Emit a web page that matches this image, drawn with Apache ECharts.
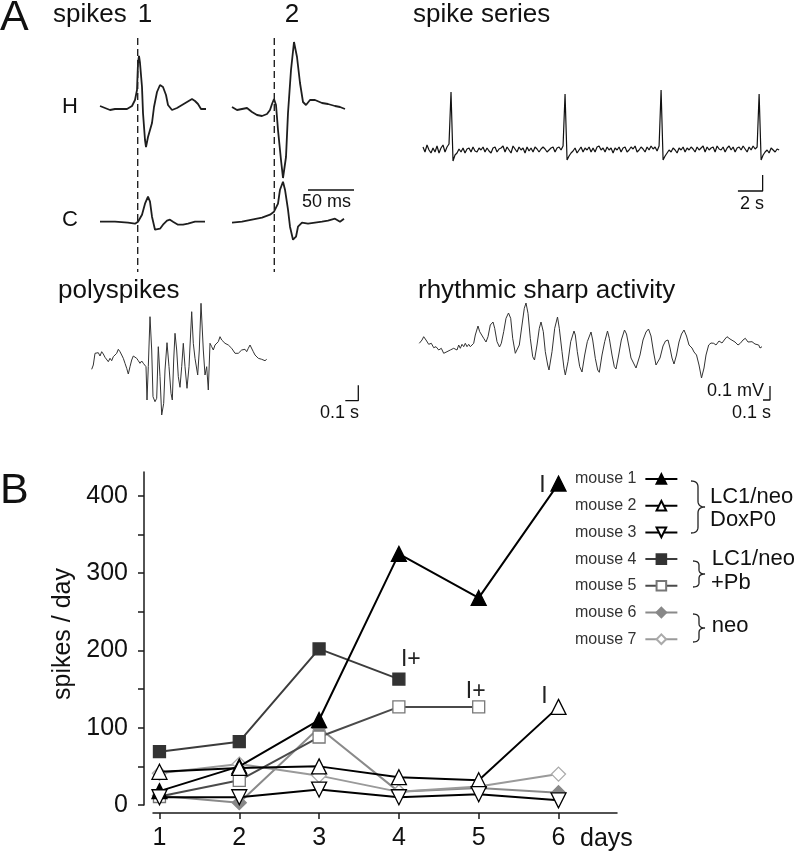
<!DOCTYPE html>
<html><head><meta charset="utf-8">
<script src="https://cdn.jsdelivr.net/npm/echarts@6/dist/echarts.min.js"></script>
<style>html,body{margin:0;padding:0;background:#fff}#c{width:794px;height:853px}</style>
</head><body><div id="c"></div>
<script>
// ================= Panel B data =================
const days = [1, 2, 3, 4, 5, 6];
const yTickValues = [0, 50, 100, 150, 200, 250, 300, 350, 400];
const yTickLabels = [0, 100, 200, 300, 400];
const mouseNames = ['mouse 1', 'mouse 2', 'mouse 3', 'mouse 4', 'mouse 5', 'mouse 6', 'mouse 7'];
const mouse1 = [18, 50, 110, 325, 268, 416];
const mouse2 = [43, 48, 50, 36, 32, 127];
const mouse3 = [10, 10, 20, 10, 14, 6];
const mouse4 = [69, 82, 202, 163];
const mouse5 = [11, 32, 88, 127, 127];
const mouse6 = [12, 3, 100, 17, 22, 16];
const mouse7 = [41, 53, 38, 17, 24, 40];
const groupNames = [['LC1/neo', 'DoxP0'], ['LC1/neo', '+Pb'], ['neo']];
// end-of-recording notes: [series index, day index, text]
const endNotes = [[0, 5, 'I'], [1, 5, 'I'], [3, 3, 'I+'], [4, 4, 'I+']];

// ================= Panel A traces (digitised: [sample, amplitude]) =================
const spikeOnsets = [37.7, 42.3];
const spikeH1 = [[0,2],[5,0],[10,-2],[15,-1],[20,-1],[27,-1],[32,2],[35,8],[37,18],[38,45],[39,52],[40,45],[42,21],[43,-5],[45,-32],[46,-39],[48,-29],[52,-15],[54,1],[57,16],[60,23],[63,21],[66,13],[68,3],[72,-2],[77,0],[82,3],[87,6],[92,9],[95,7],[98,4],[101,-1],[103,1],[106,-1]];
const spikeC1 = [[0,0],[15,0],[28,-1],[35,-2],[38,0],[42,7],[45,18],[48,25],[50,20],[52,5],[55,-8],[57,-10],[60,-7],[63,-3],[67,1],[70,2],[73,0],[78,-3],[83,-3],[88,-2],[95,0],[105,0]];
const spikeH2 = [[0,1],[5,-2],[10,-1],[15,0],[20,-4],[25,-7],[30,-8],[35,-6],[38,-2],[40,4],[42,9],[44,3],[46,-22],[49,-52],[51,-70],[54,-49],[56,-5],[59,38],[62,66],[65,51],[68,25],[71,6],[74,3],[78,8],[83,8],[90,5],[96,4],[103,2],[108,1],[113,-1]];
const spikeC2 = [[0,-1],[10,0],[20,2],[30,4],[38,7],[42,10],[46,18],[48,32],[51,40],[53,32],[56,12],[58,-5],[61,-18],[64,-15],[66,-5],[70,-1],[76,-2],[83,-1],[90,0],[96,1],[103,3],[108,0],[112,3]];
const spikeMsPerSample = 50 / 46;

const seriesSecPerSample = 0.162;
const seriesTrace = [
 3,-2,5,0,-3,2,-2,4,-3,2,
 5,-2,3,6,58,-11,-5,-3,1,-2,
 2,-3,1,2,-2,3,-1,-2,2,0,
 3,-2,2,-1,-3,2,3,-2,1,2,
 4,-2,3,0,-3,4,1,-2,3,0,
 2,-3,3,-1,2,-2,3,1,-2,1,
 3,1,-2,0,2,3,-2,2,3,0,
 4,56,-10,-6,-3,-1,2,-3,0,3,
 -2,2,0,3,-2,2,-2,3,4,0,
 2,-2,3,0,2,-3,2,0,3,-2,
 2,3,-2,0,3,1,4,-2,0,3,
 1,-2,3,0,4,1,3,-1,4,60,
 -10,-6,-3,0,-2,2,0,-3,2,0,
 3,-2,2,0,3,1,-2,3,0,2,
 4,-2,3,0,2,3,-2,4,1,0,
 3,-2,2,4,0,3,-2,2,3,0,
 4,1,-2,3,0,4,1,3,56,-10,
 -5,-2,0,-3,2,0,-2,1,0];

const polyTrace = [[0,-14.3],[1.6,-10],[3.3,1.7],[5,0],[6.6,2.3],[8.3,-1],[10,3.3],[11.6,1],[13.3,-2.3],[15,-4.3],[16.6,-6.7],[18.3,-3.3],[20,-5.7],[21.6,-1.7],[23.3,0],[25,1.7],[26.6,5.7],[28.3,3.3],[30,0],[31.6,-3.3],[33.3,-8.3],[35,-13.3],[36.6,-19],[38.3,-11.7],[40,-5],[41.6,-1],[43.3,0],[45,-3.3],[46.6,-5.7],[48.3,-8.3],[50,-6],[51.6,-8.3],[53.3,-6.7],[54.3,-11.7],[55.3,-45],[56.6,-11.7],[58.3,38.3],[60,5],[61.3,-41.7],[63.3,-46.7],[65,-43.3],[66.6,8.3],[68.3,-21.7],[70,-60],[72,-48.3],[73.3,-15],[75.3,12.3],[77.3,-11.7],[79.3,-38.3],[80.6,-45],[82,-5],[83.3,21.7],[85,5],[86.6,-21.7],[88.3,-32.3],[90,-11.7],[91.6,11.7],[93.3,-11.7],[95.3,-33.3],[97.3,-11.7],[100,43.3],[101.6,11.7],[103.3,-3.3],[104.3,-1.7],[106,-20],[107.6,5],[109.3,51.7],[111.6,5],[113.3,-20],[115,-11.7],[116.6,-35],[118.3,11.7],[120,8.3],[121.6,5],[123.3,10],[125,8.3],[126.6,13.3],[128.3,18.3],[130,15],[131.6,13.3],[133.3,11.7],[135,12.3],[136.6,10],[138.3,11.7],[140,6.7],[141.6,5],[143.3,1.7],[145,0],[146.6,1.7],[148.3,0],[150,5],[151.6,3.3],[153.3,5.7],[155,3.3],[156.6,6.7],[158.3,10],[160,8.3],[161.6,3.3],[163.3,0],[165,-1.7],[166.6,-3.3],[168.3,-2.3],[170,-4.3],[171.6,-3.3],[173.3,-5.7],[175,-4.3]];
const polyMsPerSample = 100 / 13;

const rhythmTrace = [[0,1.7],[2.7,5],[4.4,8.3],[6.7,5],[9.4,0.7],[12,1.7],[14.4,-2.7],[16.7,-1.7],[19.4,-5],[22,-3.3],[24.4,-8.3],[26,-10],[27.7,-6.7],[29.4,-8.3],[31,-5],[32.7,-6.7],[34.4,-3.3],[36,-1.7],[37.7,-5],[39.4,0],[41,-3.3],[42.7,0.7],[44.4,-1.7],[46,1.7],[47.7,-1.7],[49.4,0.7],[51,-1.7],[52.7,0],[54.4,1.7],[56,10],[58.7,19],[60.4,13.3],[62,15],[64.4,6.7],[66.7,3],[68.7,8.3],[71,20],[73.7,23],[75.4,16.7],[77.7,3.3],[80.2,-2],[82,1.7],[84.4,13.3],[86.7,26.7],[89.2,32],[91.4,26.7],[93.4,6.7],[96,-8.3],[97.7,-10],[100,0],[102.7,20],[105,36.7],[106.7,42],[108.7,31.7],[111,6.7],[113.4,-11.7],[115.2,-15],[117.7,0],[120,16.7],[121.7,23],[124,13.3],[126,-6.7],[128.4,-20],[129.7,-25],[132.7,-6.7],[135.4,16.7],[138.2,28],[140,16.7],[142.7,-6.7],[144.7,-23.3],[146,-30],[148.7,-16.7],[151.4,3.3],[154.7,14],[156,10],[158,-6.7],[160.4,-21.7],[162.7,-27],[165.4,-10],[168,3.3],[171.7,13],[173.4,5],[176,-13.3],[178.4,-25],[180,-27.3],[182.7,-10],[185.4,3.3],[188.2,14],[190,6.7],[192.7,-10],[195,-21.7],[196.7,-24],[199.4,-10],[202,5],[205.2,15],[207.2,11],[209.7,-2],[211.7,-13],[213.7,-17],[216.7,-23],[220.7,-10],[223.7,5],[226.7,13],[229.2,16],[231.7,9],[234.2,-7],[236.7,-20],[238.2,-22],[240.7,-13],[243.7,-1],[246.2,4],[248.7,5],[250.7,-3],[252.7,-13],[254.7,-19],[257.2,-10],[259.7,3],[262.2,11],[264.7,15],[267.2,9],[269.7,0],[272.7,-3],[274.7,-7],[277.2,-10],[279.7,-20],[282.2,-33],[284.7,-23],[286.7,-10],[289.4,0],[291.7,2],[294.4,1.7],[296.7,0],[299.7,4],[302.7,2],[305.7,6],[307.7,8.3],[310.7,6],[312.7,6.7],[315.7,3],[318.7,0],[321,1.7],[323.7,5],[326,6.7],[328.7,3],[330.7,5],[332.7,3.3],[335.7,1],[339.4,0],[340.7,-3],[342.7,-1.7]];
const rhythmMsPerSample = 100 / 7;
const rhythmUnitsPerMv = 140;

// ================= build =================
const FONT = '"Liberation Sans", Arial, Helvetica, sans-serif';
const chart = echarts.init(document.getElementById('c'), null, {renderer: 'canvas'});
function place(tr, dx, dy) { return tr.map(p => [p[0] + dx, p[1] + dy]); }
function traceSeries(data, gi, color, width, extra) {
  return Object.assign({type: 'line', xAxisIndex: gi, yAxisIndex: gi, data: data, symbol: 'none',
    silent: true, animation: false, lineStyle: {color: color, width: width}}, extra || {});
}
function hiddenAxis(gi, min, max) { return {type: 'value', gridIndex: gi, min: min, max: max, show: false}; }

const grids = [
  {left: 153, right: 177, top: 472, bottom: 48},          // B
  {left: 95, top: 30, width: 260, height: 250},           // spikes
  {left: 423, top: 80, width: 357, height: 120},          // spike series
  {left: 85, top: 295, width: 280, height: 130},          // polyspikes
  {left: 412, top: 290, width: 370, height: 120}          // rhythmic
];
const axisLineStyle = {color: '#1a1a1a', width: 1.5};
const xAxes = [
  {type: 'value', gridIndex: 0, min: 0.919, max: 6.733, offset: 8,
   axisLine: {show: true, onZero: false, lineStyle: axisLineStyle},
   axisTick: {show: true, length: 6, customValues: days, lineStyle: axisLineStyle},
   axisLabel: {customValues: days, margin: 13, fontSize: 25, color: '#111', fontFamily: FONT},
   splitLine: {show: false}},
  hiddenAxis(1, 0, 260), hiddenAxis(2, 0, 357 / 12.35), hiddenAxis(3, 0, 280), hiddenAxis(4, 0, 370)
];
const yAxes = [
  {type: 'value', gridIndex: 0, min: 0, max: 431, offset: 9,
   axisLine: {show: true, onZero: false, lineStyle: axisLineStyle},
   axisTick: {show: true, length: 6, customValues: yTickValues, lineStyle: axisLineStyle},
   axisLabel: {customValues: yTickLabels, margin: 16, fontSize: 25, color: '#111', fontFamily: FONT},
   splitLine: {show: false}},
  hiddenAxis(1, 0, 250), hiddenAxis(2, -50, 70), hiddenAxis(3, 0, 130), hiddenAxis(4, 0, 120)
];

const mouseData = [mouse1, mouse2, mouse3, mouse4, mouse5, mouse6, mouse7];
const mouseStyle = [
  {line: '#000', fill: '#000', border: '#000', symbol: 'triangle', size: 15, rot: 0, z: 6},
  {line: '#000', fill: '#fff', border: '#000', symbol: 'triangle', size: 15, rot: 0, z: 6},
  {line: '#000', fill: '#fff', border: '#000', symbol: 'triangle', size: 15, rot: 180, z: 6},
  {line: '#3c3c3c', fill: '#333', border: '#333', symbol: 'rect', size: 12, rot: 0, z: 5},
  {line: '#4a4a4a', fill: '#fff', border: '#777', symbol: 'rect', size: 12, rot: 0, z: 5},
  {line: '#8a8a8a', fill: '#888', border: '#888', symbol: 'diamond', size: 14, rot: 0, z: 4},
  {line: '#9a9a9a', fill: '#fff', border: '#aaa', symbol: 'diamond', size: 14, rot: 0, z: 4}
];
const noteOffset = {'0,5': [-16, 2], '1,5': [-14, -10], '3,3': [12, -19], '4,4': [-3, -15]};
const seriesB = mouseData.map((vals, i) => {
  const st = mouseStyle[i];
  const data = vals.map((v, k) => {
    const note = endNotes.find(n => n[0] === i && n[1] === k);
    if (!note) return [days[k], v];
    return {value: [days[k], v], label: {show: true, formatter: note[2], position: 'inside',
      offset: noteOffset[i + ',' + k], fontSize: 23, color: '#222', fontFamily: FONT}};
  });
  return {type: 'line', name: mouseNames[i], xAxisIndex: 0, yAxisIndex: 0, data: data,
    symbol: st.symbol, symbolSize: st.size, symbolRotate: st.rot, showAllSymbol: true, z: st.z,
    itemStyle: {color: st.fill, borderColor: st.border, borderWidth: 1.3, opacity: 1},
    lineStyle: {color: st.line, width: 2}, emphasis: {disabled: true}, animation: false};
});

const seriesA = [
  traceSeries(place(spikeH1, 5, 172), 1, '#1e1e1e', 1.8),
  traceSeries(place(spikeC1, 5, 58.3), 1, '#1e1e1e', 1.8),
  traceSeries(place(spikeH2, 137, 172), 1, '#1e1e1e', 1.8),
  traceSeries(place(spikeC2, 137, 58.3), 1, '#1e1e1e', 1.8),
  traceSeries([[5 + spikeOnsets[0], 242], [5 + spikeOnsets[0], 8]], 1, '#222', 1.4, {lineStyle: {color: '#222', width: 1.4, type: [7, 4]}}),
  traceSeries([[137 + spikeOnsets[1], 242], [137 + spikeOnsets[1], 8]], 1, '#222', 1.4, {lineStyle: {color: '#222', width: 1.4, type: [7, 4]}}),
  traceSeries([[213, 90], [213 + 50 / spikeMsPerSample, 90]], 1, '#111', 1.3),
  traceSeries(seriesTrace.map((v, i) => [i * seriesSecPerSample, v]), 2, '#111', 1.2),
  traceSeries([[25.5, -41], [27.5, -41], [27.5, -25]], 2, '#111', 1.3),
  traceSeries(place(polyTrace, 6.7, 70), 3, '#333', 1),
  traceSeries([[273.3 - 100 / polyMsPerSample, 24.3], [273.3, 24.3], [273.3, 39.7]], 3, '#111', 1.3),
  traceSeries(place(rhythmTrace, 7.3, 65), 4, '#333', 1),
  traceSeries([[358 - 100 / rhythmMsPerSample, 10], [358, 10], [358, 10 + 0.1 * rhythmUnitsPerMv]], 4, '#111', 1.3)
];

function txt(text, x, y, size, extra) {
  return Object.assign({type: 'text', x: x, y: y, silent: true,
    style: {text: text, fontSize: size, fontFamily: FONT, fill: '#111', align: 'left', verticalAlign: 'middle'}}, extra || {});
}
// curly brace outline as a polyline (sampled quadratic curves)
function brace(x0, y0, y1, w) {
  const xm = x0 + w / 2, x1 = x0 + w, ym = (y0 + y1) / 2, r = Math.min(6, (y1 - y0) / 6);
  const segs = [
    [[x0, y0], [xm, y0], [xm, y0 + r]],
    [[xm, ym - r], [xm, ym], [x1, ym]],
    [[x1, ym], [xm, ym], [xm, ym + r]],
    [[xm, y1 - r], [xm, y1], [x0, y1]]
  ];
  const pts = [];
  segs.forEach(s => {
    for (let i = 0; i <= 8; i++) {
      const t = i / 8, a = (1 - t) * (1 - t), b = 2 * t * (1 - t), c = t * t;
      pts.push([a * s[0][0] + b * s[1][0] + c * s[2][0], a * s[0][1] + b * s[1][1] + c * s[2][1]]);
    }
  });
  return {type: 'polyline', silent: true, shape: {points: pts},
    style: {fill: null, stroke: '#222', lineWidth: 1.3}};
}
const graphics = [
  txt('A', 0, 18.5, 43),
  txt('B', 0, 491, 43),
  txt('spikes', 53, 14.5, 26),
  txt('1', 145, 14.5, 26, {style: {text: '1', fontSize: 26, fontFamily: FONT, fill: '#111', align: 'center', verticalAlign: 'middle'}}),
  txt('2', 292, 14.5, 26, {style: {text: '2', fontSize: 26, fontFamily: FONT, fill: '#111', align: 'center', verticalAlign: 'middle'}}),
  txt('spike series', 413, 14.5, 26),
  txt('H', 62, 107.3, 22),
  txt('C', 62, 220, 22),
  txt('50 ms', 302, 202, 18),
  txt('2 s', 740, 203.7, 18),
  txt('polyspikes', 58, 291, 26),
  txt('rhythmic sharp activity', 418, 291, 26),
  txt('0.1 s', 320, 412.7, 18),
  txt('0.1 mV', 707, 391, 18),
  txt('0.1 s', 732, 412.7, 18),
  txt('spikes / day', 63, 634, 25, {rotation: Math.PI / 2, style: {text: 'spikes / day', fontSize: 25, fontFamily: FONT, fill: '#111', align: 'center', verticalAlign: 'middle'}}),
  txt('days', 580, 839, 25),
  txt(groupNames[0][0], 710, 496.7, 22),
  txt(groupNames[0][1], 710, 520, 22),
  txt(groupNames[1][0], 711.7, 558.8, 22),
  txt(groupNames[1][1], 711, 582.5, 22),
  txt(groupNames[2][0], 711.7, 625.6, 22),
  brace(691, 481, 533, 14),
  brace(693, 561, 587, 12),
  brace(693, 614, 642, 12)
];

chart.setOption({
  animation: false,
  backgroundColor: '#fff',
  grid: grids,
  xAxis: xAxes,
  yAxis: yAxes,
  legend: {data: mouseNames, orient: 'vertical', left: 575, top: 471, padding: 0, itemWidth: 32, itemHeight: 12,
    itemGap: 10.7, align: 'right', selectedMode: false,
    textStyle: {fontSize: 16, color: '#333', fontFamily: FONT, lineHeight: 16, padding: [0, 4, 0, 0]}},
  series: seriesB.concat(seriesA),
  graphic: graphics
});
</script></body></html>
